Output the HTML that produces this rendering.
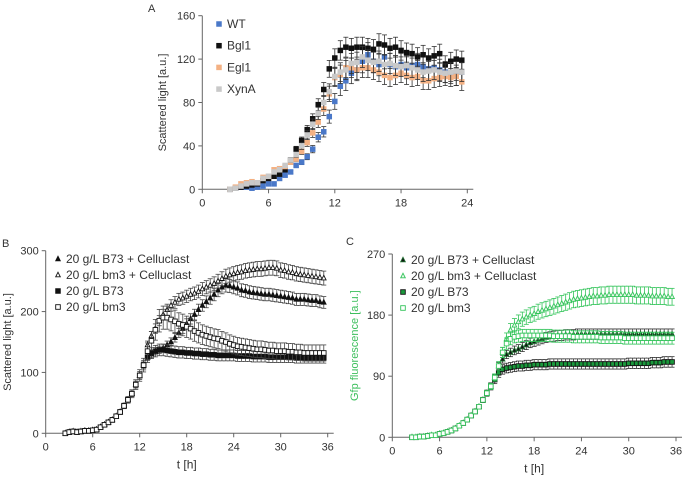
<!DOCTYPE html>
<html><head><meta charset="utf-8">
<style>
html,body{margin:0;padding:0;background:#fff;}
svg{display:block;font-family:"Liberation Sans",Arial,sans-serif;}
</style></head>
<body>
<svg id="fig" width="685" height="480" viewBox="0 0 685 480"></svg>
<script>
// ---------- DATA ----------
const wtA   = [0,1,2,2,1,2,3,5,5,10,13,16,22,25,30,37,48,53,67,81,95,100,107,110,118,124,118,115,122,115,113,115,112,114,115,113,111,112,110,108,107,105,108];
const bgl1A = [0,1,2,3,4,5,8,10,12,14,18,27,37,45,55,65,78,92,111,121,128,131,130,131,131,130,129,134,133,130,131,128,126,125,122,124,121,123,125,115,118,120,119];
const egl1A = [0,2,5,6,7,6,11,12,18,19,21,25,28,35,43,52,62,74,88,103,106,112,112,110,112,112,110,108,105,103,105,107,105,103,104,100,100,102,103,104,103,104,99];
const xynA  = [0,1,3,5,6,6,10,12,16,18,22,27,32,40,50,60,70,80,90,104,108,110,116,117,122,119,117,118,115,116,114,113,114,112,110,108,109,110,108,107,108,109,108];
const tickAx = ["0","6","12","18","24"];
const tickAy = ["0","40","80","120","160"];

const earlyB = [0,2,3,2,3,4,4,5,6,10,14,18,22,28,35,45,55,65,80,95,112];
const b73cB = earlyB.concat([125,130,135,137,140,145,150,157,165,172,180,188,195,203,210,216,222,228,235,240,243,242,240,238,235,234,232,231,230,229,228,228,227,226,225,224,223,222,220,220,220,219,218,218,216,215]);
const bm3cB = earlyB.concat([145,160,172,185,195,203,210,215,220,222,225,228,230,233,237,240,243,246,250,254,258,260,262,264,265,267,268,269,270,270,271,272,272,271,268,267,265,264,262,261,260,259,258,257,256,255]);
const b73B  = earlyB.concat([125,132,135,137,137,136,135,134,133,133,132,132,131,131,130,130,129,129,128,128,128,128,128,127,127,127,127,126,126,126,126,125,125,125,125,125,125,125,124,124,124,124,124,124,124,124]);
const bm3B  = earlyB.concat([135,152,170,185,190,190,187,184,180,178,175,172,168,165,162,160,158,156,155,152,150,147,145,143,142,141,140,139,138,138,137,136,136,135,135,135,134,134,133,133,132,132,132,132,132,132]);

const earlyC = [0,0,1,1,2,3,3,5,6,8,10,13,17,21,26,32,38,45,55,65,75];
const b73cC = earlyC.concat([88,105,115,122,125,128,130,133,136,139,141,143,145,147,148,149,150,150,151,151,151,152,152,152,152,152,152,152,152,152,152,152,152,152,152,152,152,152,152,152,152,152,152,152,152,152]);
const bm3cC = earlyC.concat([88,105,125,145,158,165,170,174,177,180,182,185,187,189,191,193,195,197,199,201,203,204,205,206,207,208,208,209,209,210,210,210,210,210,210,210,209,209,209,209,208,208,208,208,207,207]);
const b73C  = earlyC.concat([85,95,100,102,103,104,105,105,106,106,107,107,107,107,108,108,108,108,108,108,108,108,108,108,108,108,108,108,108,108,108,108,108,108,109,109,109,109,109,109,110,110,110,111,111,111]);
const bm3C  = earlyC.concat([88,105,125,138,145,148,149,150,150,150,150,150,150,150,150,149,149,149,149,149,148,148,148,148,148,148,148,147,147,147,147,147,147,146,146,146,146,146,146,146,146,146,146,146,146,146]);
const tickBx = ["0","6","12","18","24","30","36"];
const tickBy = ["0","100","200","300"];
const tickCy = ["0","90","180","270"];

const legA = ["WT","Bgl1","Egl1","XynA"];
const legB = ["20 g/L B73 + Celluclast","20 g/L bm3 + Celluclast","20 g/L B73","20 g/L bm3"];

// ---------- DRAWING ----------
const NS="http://www.w3.org/2000/svg";
const svg=document.getElementById('fig');
function mk(tag,attrs,parent){const e=document.createElementNS(NS,tag);for(const k in attrs)e.setAttribute(k,attrs[k]);(parent||svg).appendChild(e);return e;}
function txt(s,x,y,size,anchor,fill,parent,rot){const e=mk('text',{x:x,y:y,'font-size':size,'text-anchor':anchor||'start',fill:fill||'#222'},parent);if(rot)e.setAttribute('transform','rotate(-90 '+x+' '+y+')');e.textContent=s;return e;}

function panel(cfg){
  const g=mk('g',{});
  
  
  const xmax=+cfg.xt[cfg.xt.length-1], ymax=+cfg.yt[cfg.yt.length-1];
  const X=v=>cfg.x0+(cfg.x1-cfg.x0)*v/xmax;
  const Y=v=>cfg.y0-(cfg.y0-cfg.y1)*v/ymax;
  const ax=mk('g',{},g);
  
  
  mk('line',{x1:cfg.x0,y1:cfg.y0,x2:cfg.x1+6,y2:cfg.y0,stroke:'#666','stroke-width':1},ax);
  mk('line',{x1:cfg.x0,y1:cfg.y0,x2:cfg.x0,y2:cfg.y1,stroke:'#666','stroke-width':1},ax);
  cfg.xt.forEach(s=>{const x=X(+s);mk('line',{x1:x,y1:cfg.y0,x2:x,y2:cfg.y0+4,stroke:'#666'},ax);
    const t=txt(s,x,cfg.y0+17,11,'middle','#333',ax);});
  cfg.yt.forEach(s=>{const y=Y(+s);mk('line',{x1:cfg.x0-4,y1:y,x2:cfg.x0,y2:y,stroke:'#666'},ax);
    const t=txt(s,cfg.x0-7,y+4,11,'end','#333',ax);});
  const yt=txt(cfg.ytitle,cfg.ytx,(cfg.y0+cfg.y1)/2,11,'middle',cfg.ytcol||'#333',g,true);
  
  if(cfg.xtitle){const xt=txt(cfg.xtitle,(cfg.x0+cfg.x1)/2,cfg.y0+35,12,'middle','#333',g);
    }
  const pl=txt(cfg.label,cfg.lx,cfg.ly,11,'start','#333',g);
  
  cfg.series.forEach((s,si)=>{
    const sg=mk('g',{},g);
    
    
    s.vals.forEach((v,i)=>{
      const t=cfg.tstart+0.5*i, x=X(t), y=Y(v), e=(cfg.ymaxPx)*v*s.err;
      if(e>1.5){mk('line',{x1:x,y1:y-e,x2:x,y2:y+e,stroke:s.ecol,'stroke-width':0.8},sg);
        mk('line',{x1:x-2.5,y1:y-e,x2:x+2.5,y2:y-e,stroke:s.ecol,'stroke-width':0.8},sg);
        mk('line',{x1:x-2.5,y1:y+e,x2:x+2.5,y2:y+e,stroke:s.ecol,'stroke-width':0.8},sg);}
    });
    s.vals.forEach((v,i)=>{
      const t=cfg.tstart+0.5*i;
      const m=marker(s,X(t),Y(v),sg);
      
      
    });
    const ly=cfg.legY+si*cfg.legDy;
    const lm=marker(s,cfg.legX,ly-4,g);
    
    
    const lt=txt(cfg.leg[si],cfg.legX+8,ly,12,'start','#333',g);
    
    
  });
}
function marker(s,x,y,p){
  const r=s.size||2.3;
  if(s.shape==='tri'){
    return mk('polygon',{points:(x)+','+(y-r-0.5)+' '+(x-r)+','+(y+r-0.5)+' '+(x+r)+','+(y+r-0.5),fill:s.fill,stroke:s.stroke,'stroke-width':0.9},p);
  }
  return mk('rect',{x:x-r,y:y-r,width:2*r,height:2*r,fill:s.fill,stroke:s.stroke,'stroke-width':s.sw||0.9},p);
}

panel({name:'panel-a',label:'A',lx:148,ly:12,x0:202.3,x1:467.3,y0:189.3,y1:15.7,xt:tickAx,yt:tickAy,
  ytitle:'Scattered light [a.u.]',ytx:166,tstart:2.5,ymaxPx:173.6/160,legX:219,legY:28,legDy:21.7,leg:legA,
  series:[
    {key:'wt',vals:wtA,shape:'sq',fill:'#4a78c8',stroke:'#4a78c8',ecol:'#333',err:0.09},
    {key:'bgl1',vals:bgl1A,shape:'sq',fill:'#111',stroke:'#111',ecol:'#333',err:0.07},
    {key:'egl1',vals:egl1A,shape:'sq',fill:'#f4b183',stroke:'#f4b183',ecol:'#333',err:0.08},
    {key:'xyna',vals:xynA,shape:'sq',fill:'#c9c9c9',stroke:'#c9c9c9',ecol:'#333',err:0.08}
  ]});
panel({name:'panel-b',label:'B',lx:2,ly:247,x0:45.7,x1:327.7,y0:433.3,y1:250.7,xt:tickBx,yt:tickBy,
  ytitle:'Scattered light [a.u.]',ytx:11,xtitle:'t [h]',tstart:2.5,ymaxPx:182.6/300,legX:58,legY:263,legDy:16,leg:legB,
  series:[
    {key:'b73-celluclast',vals:b73cB,shape:'tri',fill:'#111',stroke:'#111',ecol:'#444',err:0.045},
    {key:'bm3-celluclast',vals:bm3cB,shape:'tri',fill:'#fff',stroke:'#111',ecol:'#444',err:0.045},
    {key:'b73',vals:b73B,shape:'sq',fill:'#111',stroke:'#111',ecol:'#444',err:0.07},
    {key:'bm3',vals:bm3B,shape:'sq',fill:'#fff',stroke:'#111',ecol:'#444',err:0.1}
  ]});
panel({name:'panel-c',label:'C',lx:346,ly:245,x0:392.3,x1:676,y0:437.3,y1:254,xt:tickBx,yt:tickCy,
  ytitle:'Gfp fluorescence [a.u.]',ytx:358,ytcol:'#3cbf5c',xtitle:'t [h]',tstart:2.5,ymaxPx:183.3/270,legX:403,legY:264,legDy:16,leg:legB,
  series:[
    {key:'b73-celluclast',vals:b73cC,shape:'tri',fill:'#111',stroke:'#1d6b2e',ecol:'#333',err:0.05},
    {key:'bm3-celluclast',vals:bm3cC,shape:'tri',fill:'#e6f7ea',stroke:'#33c45a',ecol:'#33c45a',err:0.06},
    {key:'b73',vals:b73C,shape:'sq',fill:'#1a9a3c',stroke:'#111',ecol:'#333',err:0.07},
    {key:'bm3',vals:bm3C,shape:'sq',fill:'#fff',stroke:'#33c45a',ecol:'#33c45a',err:0.06}
  ]});
</script>
</body></html>
